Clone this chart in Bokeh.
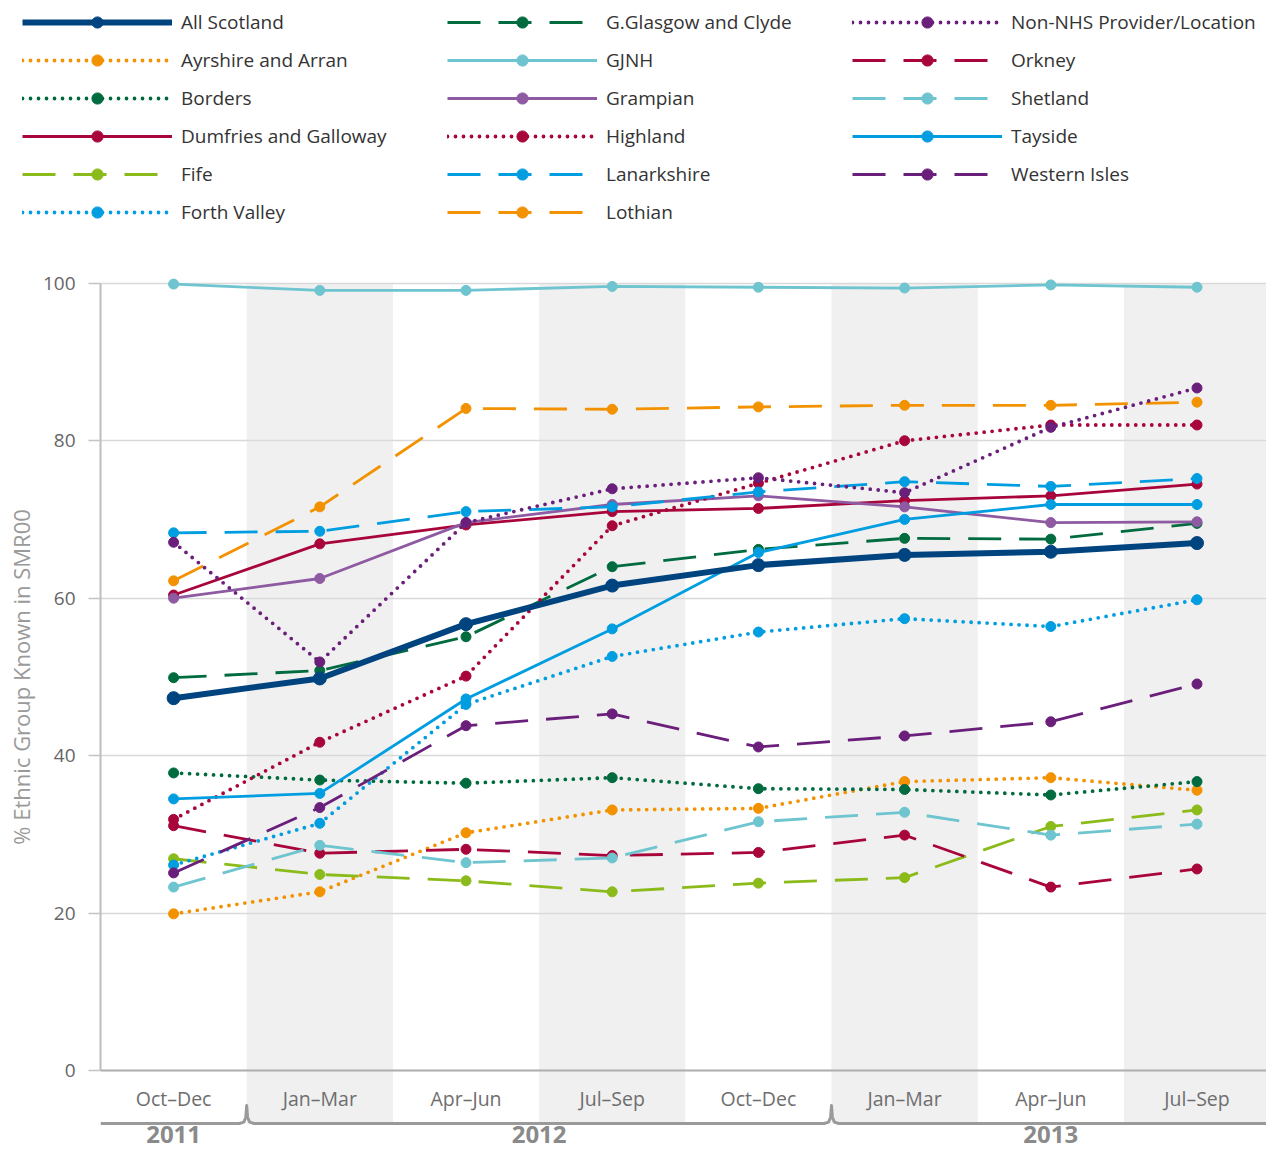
import math
from bokeh.plotting import figure
from bokeh.models import Range1d, FixedTicker, Legend, LegendItem, ColumnDataSource, Span
from bokeh.layouts import column, row
from bokeh.embed import file_html
from bokeh.resources import INLINE
from bokeh.core.properties import value

# ---------------- data ----------------
quarters = ["Oct–Dec", "Jan–Mar", "Apr–Jun", "Jul–Sep", "Oct–Dec", "Jan–Mar", "Apr–Jun", "Jul–Sep"]
years = ["2011", "2012", "2013"]
year_counts = [1, 4, 3]
y_ticks = [0, 20, 40, 60, 80, 100]

all_scotland = [47.3, 49.8, 56.7, 61.6, 64.2, 65.5, 65.9, 67.0]
ayrshire = [19.9, 22.7, 30.2, 33.1, 33.3, 36.7, 37.2, 35.6]
borders = [37.8, 36.9, 36.5, 37.2, 35.8, 35.7, 35.0, 36.7]
dumfries = [60.4, 66.9, 69.3, 71.0, 71.4, 72.4, 73.0, 74.5]
fife = [26.9, 24.9, 24.1, 22.7, 23.8, 24.5, 31.0, 33.1]
forth_valley = [26.1, 31.4, 46.5, 52.6, 55.7, 57.4, 56.4, 59.8]
ggc = [49.9, 50.8, 55.1, 64.0, 66.2, 67.6, 67.5, 69.5]
gjnh = [99.9, 99.1, 99.1, 99.6, 99.5, 99.4, 99.8, 99.5]
grampian = [60.0, 62.5, 69.6, 71.9, 73.0, 71.6, 69.6, 69.7]
highland = [31.9, 41.7, 50.1, 69.2, 74.6, 80.0, 82.0, 82.0]
lanarkshire = [68.3, 68.5, 71.0, 71.6, 73.5, 74.8, 74.2, 75.2]
lothian = [62.2, 71.6, 84.1, 84.0, 84.3, 84.5, 84.5, 84.9]
non_nhs = [67.1, 51.9, 69.6, 73.9, 75.3, 73.4, 81.7, 86.7]
orkney = [31.1, 27.6, 28.1, 27.3, 27.7, 29.9, 23.3, 25.6]
shetland = [23.3, 28.6, 26.4, 27.0, 31.6, 32.8, 29.9, 31.3]
tayside = [34.5, 35.2, 47.2, 56.1, 65.8, 70.0, 71.9, 71.9]
western_isles = [25.1, 33.4, 43.8, 45.3, 41.1, 42.5, 44.3, 49.1]

# ---------------- styles ----------------
NAVY = "#00447f"
ORANGE = "#f39200"
DGREEN = "#006b3f"
CRIMSON = "#a8063a"
LIME = "#8bbb1a"
BLUE = "#009ee0"
TEAL = "#6ec4cf"
PURPLE = "#8e5aa2"
DPURPLE = "#6a1f7a"

SOLID, DASH, DOT = "solid", "33 18", "0 8"

series = [
    ("All Scotland", all_scotland, NAVY, SOLID, 6, 13),
    ("Ayrshire and Arran", ayrshire, ORANGE, DOT, 3.8, 10),
    ("Borders", borders, DGREEN, DOT, 3.8, 10),
    ("Dumfries and Galloway", dumfries, CRIMSON, SOLID, 2.8, 10),
    ("Fife", fife, LIME, DASH, 2.8, 10),
    ("Forth Valley", forth_valley, BLUE, DOT, 3.8, 10),
    ("G.Glasgow and Clyde", ggc, DGREEN, DASH, 2.8, 10),
    ("GJNH", gjnh, TEAL, SOLID, 2.8, 10),
    ("Grampian", grampian, PURPLE, SOLID, 2.8, 10),
    ("Highland", highland, CRIMSON, DOT, 3.8, 10),
    ("Lanarkshire", lanarkshire, BLUE, DASH, 2.8, 10),
    ("Lothian", lothian, ORANGE, DASH, 2.8, 10),
    ("Non-NHS Provider/Location", non_nhs, DPURPLE, DOT, 3.8, 10),
    ("Orkney", orkney, CRIMSON, DASH, 2.8, 10),
    ("Shetland", shetland, TEAL, DASH, 2.8, 10),
    ("Tayside", tayside, BLUE, SOLID, 2.8, 10),
    ("Western Isles", western_isles, DPURPLE, DASH, 2.8, 10),
]

FONT_NAME = "Open Sans"
FONT = value(FONT_NAME)
x_idx = list(range(len(quarters)))
BAND = "#f0f0f0"
band_idx = x_idx[1::2]

# ---------------- layout geometry (pixels) ----------------
TOTAL_W, TOTAL_H = 1266, 1150
LEGEND_H = 254
MAIN_TOP_BORDER = 17
LABEL_W = 36
FRAME_LEFT = 100
PX_PER_CAT = 146.2
PX_PER_UNIT = 7.872
Y_TOP = 101.5

main_h = TOTAL_H - LEGEND_H
frame_h = main_h - MAIN_TOP_BORDER
frame_w = TOTAL_W - FRAME_LEFT
X_RANGE = Range1d(-0.5, -0.5 + frame_w / PX_PER_CAT)
Y_RANGE = Range1d(Y_TOP - frame_h / PX_PER_UNIT, Y_TOP)


def px_below_zero(px):
    return -px / PX_PER_UNIT


def line_kwargs(color, dash, width):
    kw = dict(line_color=color, line_width=width, line_join="round")
    if dash == DOT:
        kw.update(line_dash=dash, line_cap="round")
    elif dash == DASH:
        kw.update(line_dash=dash, line_cap="butt")
    return kw


# ---------------- legend row ----------------
def legend_fig(width, left, entries):
    f = figure(width=width, height=LEGEND_H, x_range=Range1d(0, 1), y_range=Range1d(0, 1),
               toolbar_location=None, output_backend="svg",
               x_axis_location=None, y_axis_location=None,
               min_border_left=left, min_border_right=0, min_border_top=8, min_border_bottom=0)
    f.grid.visible = False
    f.outline_line_color = None
    src = ColumnDataSource(dict(x=[math.nan], y=[math.nan]))
    items = []
    for name, vals, color, dash, width_, msize in entries:
        lr = f.line("x", "y", source=src, **line_kwargs(color, dash, width_))
        sr = f.scatter("x", "y", source=src, size=msize, fill_color=color, line_color=color)
        items.append(LegendItem(label=name, renderers=[lr, sr]))
    lg = Legend(items=items, location="top_left", margin=0, padding=0, spacing=10,
                glyph_width=150, glyph_height=28, label_height=28, label_standoff=9,
                label_text_font=FONT_NAME, label_text_font_size="19px", label_text_color="#333333",
                border_line_color=None, background_fill_alpha=0)
    f.add_layout(lg)
    return f


leg1 = legend_fig(433, 22, series[0:6])
leg2 = legend_fig(405, 14, series[6:12])
leg3 = legend_fig(TOTAL_W - 838, 14, series[12:17])
legend_row = row(leg1, leg2, leg3)

# ---------------- y-axis title column ----------------
lab = figure(width=LABEL_W, height=main_h, x_range=Range1d(0, 1), y_range=Y_RANGE,
             toolbar_location=None, output_backend="svg",
             x_axis_location=None, y_axis_location=None,
             min_border_left=0, min_border_right=0, min_border_top=MAIN_TOP_BORDER, min_border_bottom=0)
lab.grid.visible = False
lab.outline_line_color = None
lab.text(x=[20 / LABEL_W], y=[(min(y_ticks) + max(y_ticks)) / 2], text=["% Ethnic Group Known in SMR00"],
         angle=math.pi / 2, text_align="center", text_baseline="middle",
         text_font=FONT, text_font_size="22px", text_color="#9a9a9a")

# ---------------- main chart ----------------
p = figure(width=TOTAL_W - LABEL_W, height=main_h, x_range=X_RANGE, y_range=Y_RANGE,
           toolbar_location=None, output_backend="svg", x_axis_location=None,
           min_border_left=FRAME_LEFT - LABEL_W, min_border_right=0,
           min_border_top=MAIN_TOP_BORDER, min_border_bottom=0)
p.outline_line_color = None
p.xgrid.visible = False
p.ygrid.ticker = FixedTicker(ticks=y_ticks)
p.ygrid.grid_line_color = "#d9d9d9"
p.ygrid.grid_line_width = 1.5

BRACKET_Y = px_below_zero(53)
bands = p.quad(left=[i - 0.5 for i in band_idx], right=[i + 0.5 for i in band_idx],
               bottom=BRACKET_Y, top=max(y_ticks), fill_color=BAND, line_color=None)
bands.level = "image"

p.yaxis.ticker = FixedTicker(ticks=y_ticks)
p.yaxis.bounds = (min(y_ticks), max(y_ticks))
p.yaxis.axis_line_color = "#bdbdbd"
p.yaxis.axis_line_width = 2
p.yaxis.major_tick_out = 12
p.yaxis.major_tick_in = 0
p.yaxis.major_tick_line_color = "#c4c4c4"
p.yaxis.major_tick_line_width = 1.5
p.yaxis.minor_tick_line_color = None
p.yaxis.major_label_standoff = 13
p.yaxis.major_label_text_font = FONT_NAME
p.yaxis.major_label_text_font_size = "19px"
p.yaxis.major_label_text_color = "#666666"

p.add_layout(Span(location=0, dimension="width", line_color="#b0b0b0", line_width=2))

draw_order = series[1:] + series[:1]
for name, vals, color, dash, width_, msize in draw_order:
    p.line(x_idx, vals, **line_kwargs(color, dash, width_))
    p.scatter(x_idx, vals, size=msize, fill_color=color, line_color=color)

# quarter labels
p.text(x=x_idx, y=[px_below_zero(28)] * len(x_idx), text=quarters, text_align="center",
       text_baseline="middle", text_font=FONT, text_font_size="19.5px", text_color="#6e6e6e")

# bracket with notches at year boundaries
bounds = []
acc = 0
for c in year_counts[:-1]:
    acc += c
    bounds.append(acc - 0.5)
notch = px_below_zero(35) - BRACKET_Y
bx = [X_RANGE.start]
by = [BRACKET_Y]
for xb in bounds:
    bx += [xb - 0.05, xb - 0.02, xb - 0.006, xb, xb + 0.006, xb + 0.02, xb + 0.05]
    by += [BRACKET_Y, BRACKET_Y + notch * 0.08, BRACKET_Y + notch * 0.35, BRACKET_Y + notch,
           BRACKET_Y + notch * 0.35, BRACKET_Y + notch * 0.08, BRACKET_Y]
bx.append(X_RANGE.end)
by.append(BRACKET_Y)
p.line(bx, by, line_color="#9a9a9a", line_width=3, line_join="round")

centers = []
start = 0
for c in year_counts:
    centers.append(start + (c - 1) / 2)
    start += c
p.text(x=centers, y=[px_below_zero(64)] * len(centers), text=years, text_align="center",
       text_baseline="middle", text_font=FONT, text_font_size="24px", text_font_style="bold",
       text_color="#8a8a8a")

layout = column(legend_row, row(lab, p))
open("out.html", "w").write(file_html(layout, INLINE))
